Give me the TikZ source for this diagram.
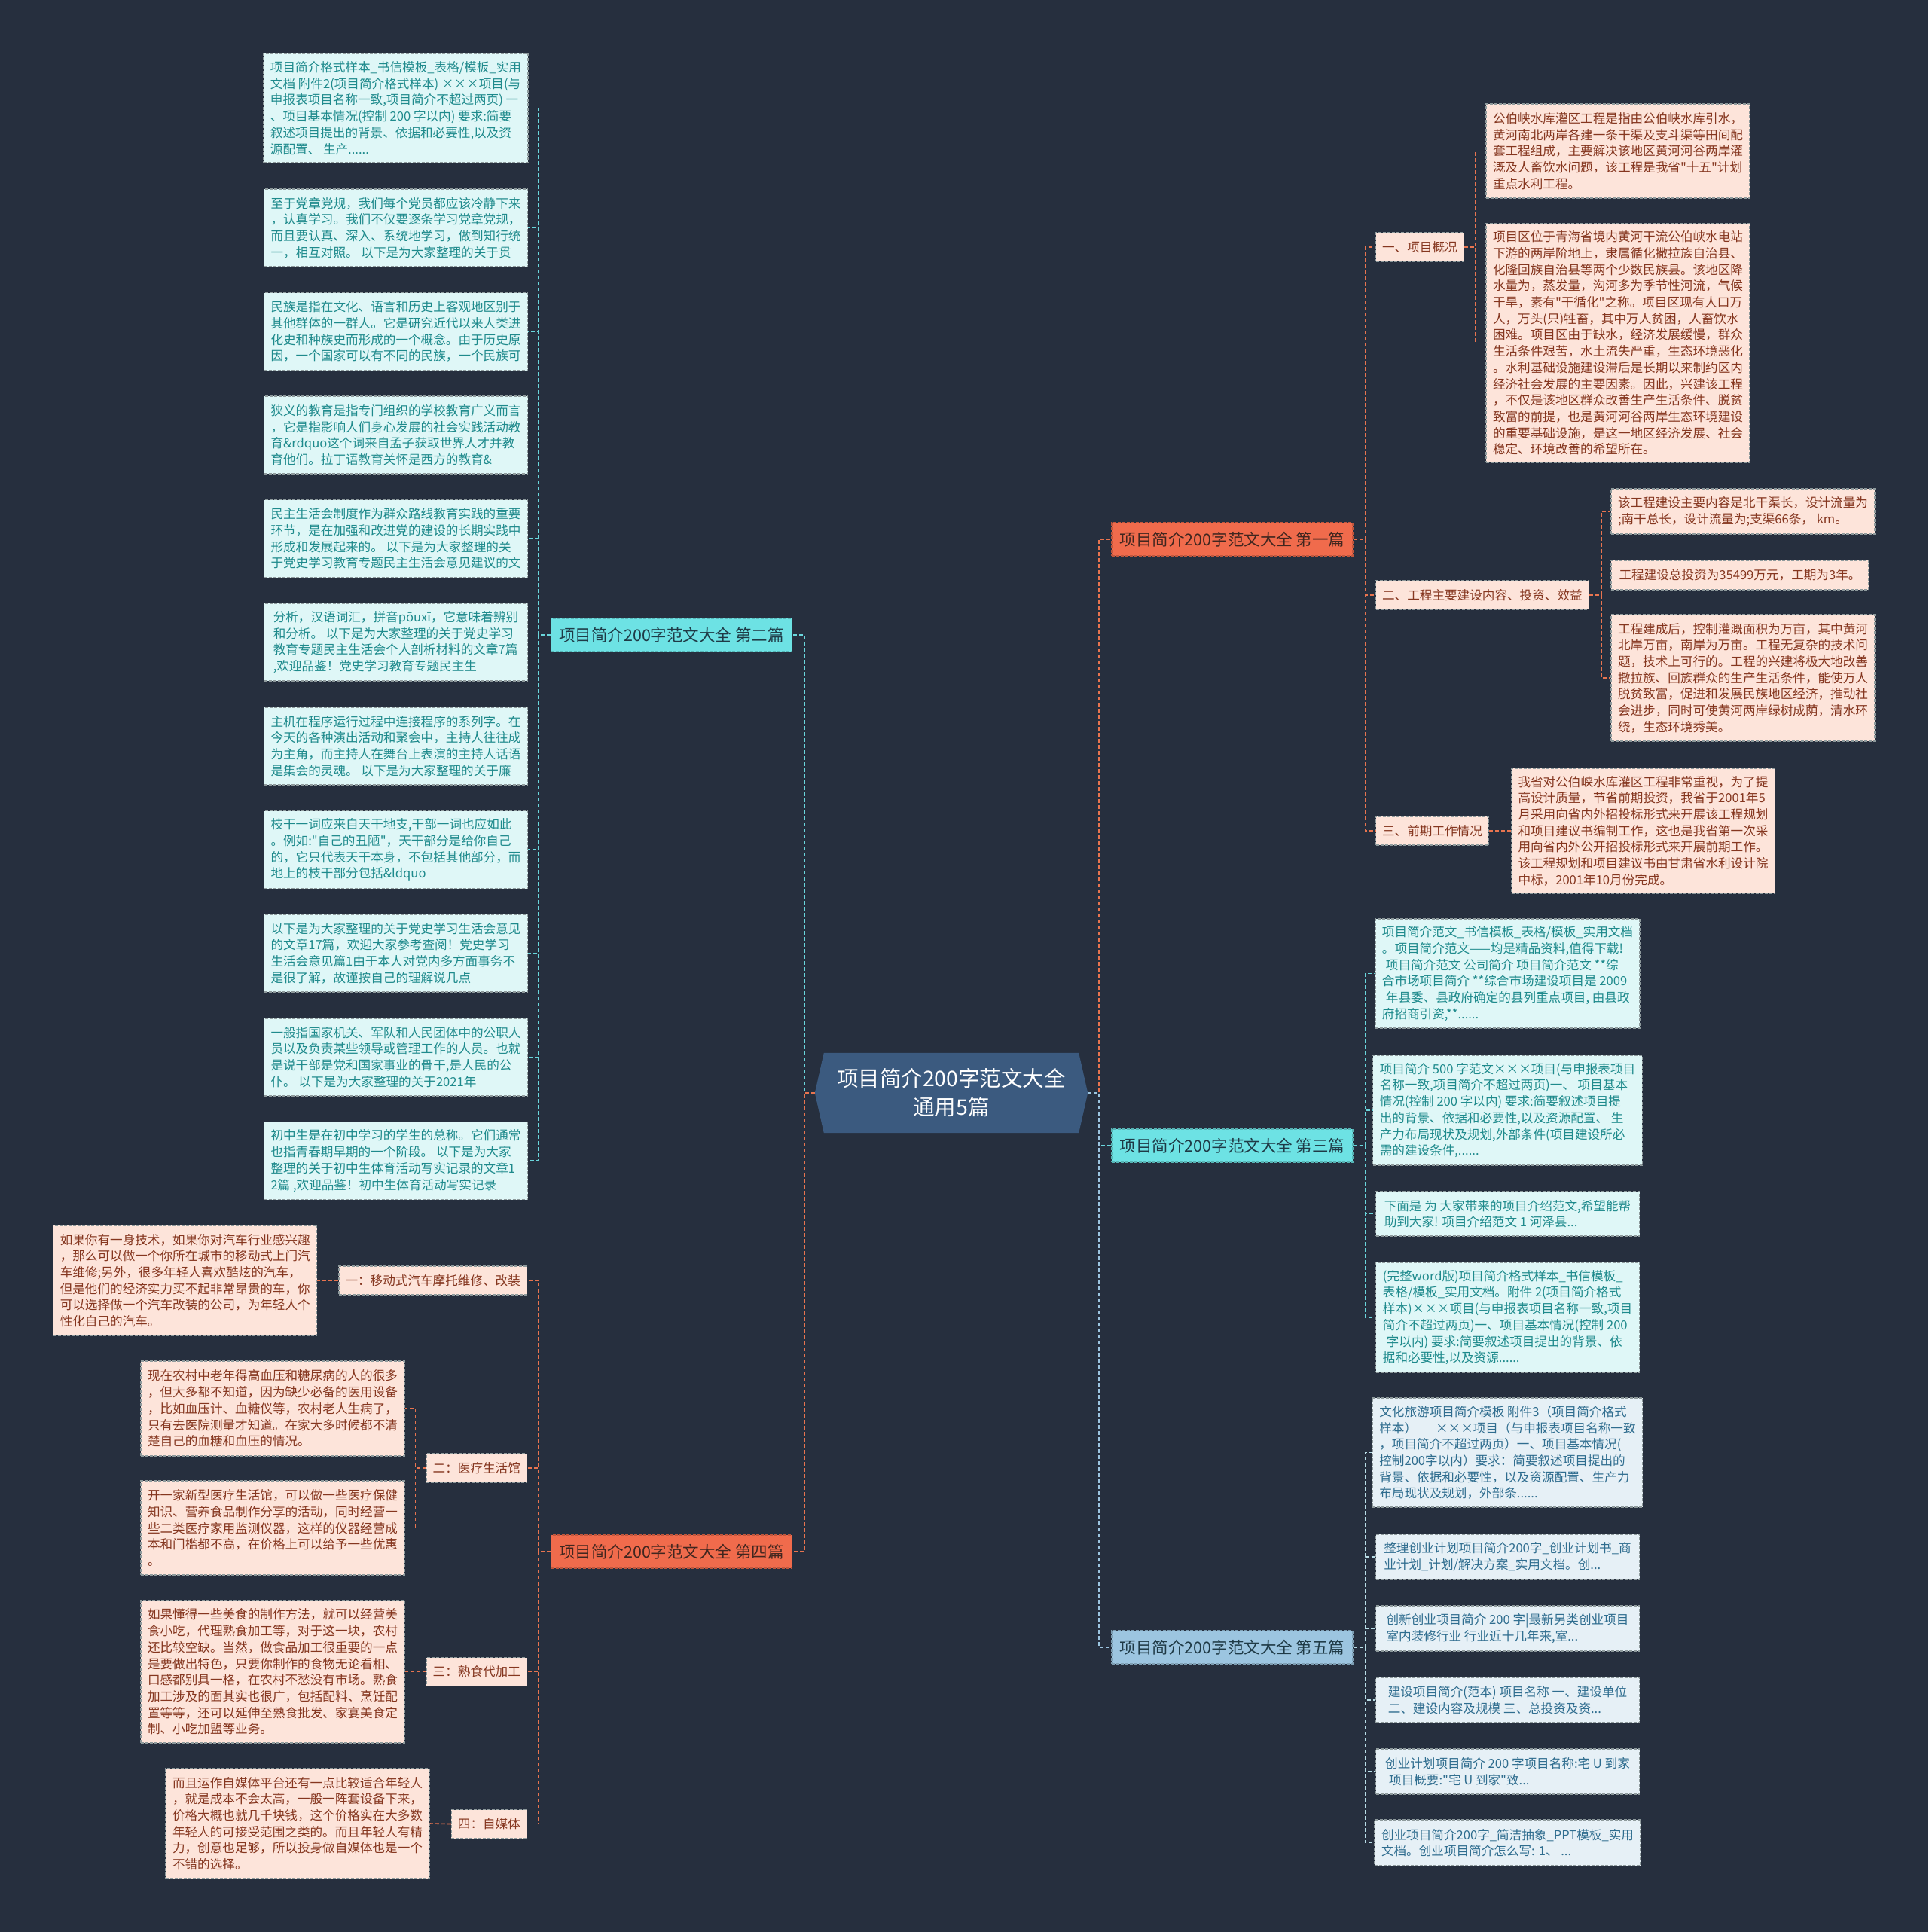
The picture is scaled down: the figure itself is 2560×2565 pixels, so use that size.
\documentclass[tikz,border=0pt]{standalone}
\usepackage{fontspec}
\setmainfont{Noto Sans CJK SC}[Ligatures=TeXOff]
\usetikzlibrary{backgrounds}
\definecolor{bgc}{HTML}{262F3E}
\definecolor{hexfill}{HTML}{3B5A7F}
\definecolor{orangefill}{HTML}{F06B4C}
\definecolor{cyanfill}{HTML}{6DE2E4}
\definecolor{bluefill}{HTML}{9CC5E0}
\definecolor{orangetext}{HTML}{40261F}
\definecolor{cyantext}{HTML}{1F3A46}
\definecolor{cleaffill}{HTML}{DFF7F7}
\definecolor{cleaftext}{HTML}{1E8A8C}
\definecolor{pleaffill}{HTML}{FDE4DA}
\definecolor{pleaftext}{HTML}{85361F}
\definecolor{bleaffill}{HTML}{E6F0F6}
\definecolor{bleaftext}{HTML}{2F6D8F}
\definecolor{leafdraw}{HTML}{8E9A9C}
\definecolor{corange}{HTML}{E8744F}
\definecolor{ccyan}{HTML}{6AD6DC}
\definecolor{cblue}{HTML}{9CC5E0}
\definecolor{clight}{HTML}{B8DDE6}
\tikzset{
  every node/.append style={font=\fontsize{16.6pt}{21.7pt}\selectfont},
  leafbase/.style={rectangle, draw=leafdraw, dash pattern=on 4pt off 2pt, line width=1.2pt, align=left, inner xsep=9pt, inner ysep=0pt, minimum width=350pt},
  cleaf/.style={leafbase, fill=cleaffill, text=cleaftext},
  pleaf/.style={leafbase, fill=pleaffill, text=pleaftext},
  bleaf/.style={leafbase, fill=bleaffill, text=bleaftext},
  psub/.style={rectangle, draw=leafdraw, dash pattern=on 4pt off 2pt, line width=1.2pt, fill=pleaffill, text=pleaftext, minimum height=38pt, inner xsep=8.5pt, inner ysep=0pt},
  mainbr/.style={rectangle, minimum width=320pt, minimum height=44pt, inner sep=0pt, font=\fontsize{21.5pt}{24pt}\selectfont, dash pattern=on 4pt off 2pt, line width=1.2pt},
  obr/.style={mainbr, fill=orangefill, draw=orangefill!80!black, text=orangetext},
  cbr/.style={mainbr, fill=cyanfill, draw=cyanfill!80!black, text=cyantext},
  bbr/.style={mainbr, fill=bluefill, draw=bluefill!80!black, text=cyantext},
  centre/.style={rectangle, minimum width=362pt, minimum height=106pt, inner sep=0pt, align=center, text=white, font=\fontsize{28.5pt}{38pt}\selectfont},
  conn/.style={line width=1.6pt, dash pattern=on 5pt off 3pt},
}
\begin{document}
\begin{tikzpicture}[x=1pt,y=-1pt]
\begin{scope}[on background layer]
\fill[bgc] (0,0) rectangle (2560,2565);
\end{scope}
\useasboundingbox (0,0) rectangle (2560,2565);

% centre
\node[centre] (c) at (1263,1451) {项目简介200字范文大全\\通用5篇};
\begin{scope}[on background layer]
\fill[hexfill] (c.west) -- ([xshift=12pt]c.north west) -- ([xshift=-12pt]c.north east) -- (c.east) -- ([xshift=-12pt]c.south east) -- ([xshift=12pt]c.south west) -- cycle;
\end{scope}

% main branches
\node[obr] (b1m) at (1636,716) {项目简介200字范文大全 第一篇};
\node[cbr] (b3m) at (1636,1521) {项目简介200字范文大全 第三篇};
\node[bbr] (b5m) at (1636,2187) {项目简介200字范文大全 第五篇};
\node[cbr] (b2m) at (891.5,843) {项目简介200字范文大全 第二篇};
\node[obr] (b4m) at (891.5,2060) {项目简介200字范文大全 第四篇};

% ---------- branch 2 leaves
\node[cleaf, minimum height=145pt] (b2l1) at (525.5,143.5) {项目简介格式样本\_书信模板\_表格/模板\_实用\\文档  附件2(项目简介格式样本) ×××项目(与\\申报表项目名称一致,项目简介不超过两页) 一\\、项目基本情况(控制 200 字以内) 要求:简要\\叙述项目提出的背景、依据和必要性,以及资\\源配置、 生产......};
\node[cleaf, minimum height=103pt] (b2l2) at (525.5,302.5) {至于党章党规，我们每个党员都应该冷静下来\\，认真学习。我们不仅要逐条学习党章党规，\\而且要认真、深入、系统地学习，做到知行统\\一，相互对照。 以下是为大家整理的关于贯};
\node[cleaf, minimum height=103pt] (b2l3) at (525.5,440) {民族是指在文化、语言和历史上客观地区别于\\其他群体的一群人。它是研究近代以来人类进\\化史和种族史而形成的一个概念。由于历史原\\因，一个国家可以有不同的民族，一个民族可};
\node[cleaf, minimum height=103pt] (b2l4) at (525.5,577.5) {狭义的教育是指专门组织的学校教育广义而言\\，它是指影响人们身心发展的社会实践活动教\\育\&rdquo这个词来自孟子获取世界人才并教\\育他们。拉丁语教育关怀是西方的教育\&};
\node[cleaf, minimum height=103pt] (b2l5) at (525.5,715) {民主生活会制度作为群众路线教育实践的重要\\环节，是在加强和改进党的建设的长期实践中\\形成和发展起来的。 以下是为大家整理的关\\于党史学习教育专题民主生活会意见建议的文};
\node[cleaf, minimum height=103pt] (b2l6) at (525.5,852.5) {分析，汉语词汇，拼音pōuxī，它意味着辨别\\和分析。 以下是为大家整理的关于党史学习\\教育专题民主生活会个人剖析材料的文章7篇\\,欢迎品鉴！党史学习教育专题民主生};
\node[cleaf, minimum height=103pt] (b2l7) at (525.5,990.5) {主机在程序运行过程中连接程序的系列字。在\\今天的各种演出活动和聚会中，主持人往往成\\为主角，而主持人在舞台上表演的主持人话语\\是集会的灵魂。 以下是为大家整理的关于廉};
\node[cleaf, minimum height=103pt] (b2l8) at (525.5,1128) {枝干一词应来自天干地支,干部一词也应如此\\。例如:"自己的丑陋"，天干部分是给你自己\\的，它只代表天干本身，不包括其他部分，而\\地上的枝干部分包括\&ldquo};
\node[cleaf, minimum height=103pt] (b2l9) at (525.5,1265.5) {以下是为大家整理的关于党史学习生活会意见\\的文章17篇，欢迎大家参考查阅！党史学习\\生活会意见篇1由于本人对党内多方面事务不\\是很了解，故谨按自己的理解说几点};
\node[cleaf, minimum height=103pt] (b2l10) at (525.5,1403.5) {一般指国家机关、军队和人民团体中的公职人\\员以及负责某些领导或管理工作的人员。也就\\是说干部是党和国家事业的骨干,是人民的公\\仆。 以下是为大家整理的关于2021年};
\node[cleaf, minimum height=103pt] (b2l11) at (525.5,1541) {初中生是在初中学习的学生的总称。它们通常\\也指青春期早期的一个阶段。 以下是为大家\\整理的关于初中生体育活动写实记录的文章1\\2篇 ,欢迎品鉴！初中生体育活动写实记录};

% ---------- branch 4
\node[psub, anchor=east] (s41) at (700,1700) {一：移动式汽车摩托维修、改装};
\node[psub, anchor=east] (s42) at (700,1949) {二：医疗生活馆};
\node[psub, anchor=east] (s43) at (700,2219.5) {三：熟食代加工};
\node[psub, anchor=east] (s44) at (700,2421.5) {四：自媒体};
\node[pleaf, minimum height=146pt] (l4a) at (245.75,1700) {如果你有一身技术，如果你对汽车行业感兴趣\\，那么可以做一个你所在城市的移动式上门汽\\车维修;另外，很多年轻人喜欢酷炫的汽车，\\但是他们的经济实力买不起非常昂贵的车，你\\可以选择做一个汽车改装的公司，为年轻人个\\性化自己的汽车。};
\node[pleaf, minimum height=126pt] (l4b) at (362,1870) {现在农村中老年得高血压和糖尿病的人的很多\\，但大多都不知道，因为缺少必备的医用设备\\，比如血压计、血糖仪等，农村老人生病了，\\只有去医院测量才知道。在家大多时候都不清\\楚自己的血糖和血压的情况。};
\node[pleaf, minimum height=125pt] (l4c) at (362,2028.5) {开一家新型医疗生活馆，可以做一些医疗保健\\知识、营养食品制作分享的活动，同时经营一\\些二类医疗家用监测仪器，这样的仪器经营成\\本和门槛都不高，在价格上可以给予一些优惠\\。};
\node[pleaf, minimum height=189pt] (l4d) at (362,2219.5) {如果懂得一些美食的制作方法，就可以经营美\\食小吃，代理熟食加工等，对于这一块，农村\\还比较空缺。当然，做食品加工很重要的一点\\是要做出特色，只要你制作的食物无论看相、\\口感都别具一格，在农村不愁没有市场。熟食\\加工涉及的面其实也很广，包括配料、烹饪配\\置等等，还可以延伸至熟食批发、家宴美食定\\制、小吃加盟等业务。};
\node[pleaf, minimum height=146pt] (l4e) at (395,2421) {而且运作自媒体平台还有一点比较适合年轻人\\，就是成本不会太高，一般一阵套设备下来，\\价格大概也就几千块钱，这个价格实在大多数\\年轻人的可接受范围之类的。而且年轻人有精\\力，创意也足够，所以投身做自媒体也是一个\\不错的选择。};

% ---------- branch 1
\node[psub, anchor=west] (s11) at (1826,328) {一、项目概况};
\node[psub, anchor=west] (s12) at (1826,790) {二、工程主要建设内容、投资、效益};
\node[psub, anchor=west] (s13) at (1826,1103) {三、前期工作情况};
\node[pleaf, minimum height=125pt] (l1f) at (2148,200.5) {公伯峡水库灌区工程是指由公伯峡水库引水，\\黄河南北两岸各建一条干渠及支斗渠等田间配\\套工程组成，主要解决该地区黄河河谷两岸灌\\溉及人畜饮水问题，该工程是我省"十五"计划\\重点水利工程。};
\node[pleaf, minimum height=317pt] (l1g) at (2148,455.5) {项目区位于青海省境内黄河干流公伯峡水电站\\下游的两岸阶地上，隶属循化撒拉族自治县、\\化隆回族自治县等两个少数民族县。该地区降\\水量为，蒸发量，沟河多为季节性河流，气候\\干旱，素有"干循化"之称。项目区现有人口万\\人，万头(只)牲畜，其中万人贫困，人畜饮水\\困难。项目区由于缺水，经济发展缓慢，群众\\生活条件艰苦，水土流失严重，生态环境恶化\\。水利基础设施建设滞后是长期以来制约区内\\经济社会发展的主要因素。因此，兴建该工程\\，不仅是该地区群众改善生产生活条件、脱贫\\致富的前提，也是黄河河谷两岸生态环境建设\\的重要基础设施，是这一地区经济发展、社会\\稳定、环境改善的希望所在。};
\node[pleaf, minimum height=60pt] (l1h) at (2314,679) {该工程建设主要内容是北干渠长，设计流量为\\;南干总长，设计流量为;支渠66条， km。};
\node[pleaf, minimum height=39pt, minimum width=342pt] (l1i) at (2310,763.5) {工程建设总投资为35499万元，工期为3年。};
\node[pleaf, minimum height=168pt] (l1j) at (2314,900) {工程建成后，控制灌溉面积为万亩，其中黄河\\北岸万亩，南岸为万亩。工程无复杂的技术问\\题，技术上可行的。工程的兴建将极大地改善\\撒拉族、回族群众的生产生活条件，能使万人\\脱贫致富，促进和发展民族地区经济，推动社\\会进步，同时可使黄河两岸绿树成荫，清水环\\绕，生态环境秀美。};
\node[pleaf, minimum height=166pt] (l1k) at (2181.5,1103) {我省对公伯峡水库灌区工程非常重视，为了提\\高设计质量，节省前期投资，我省于2001年5\\月采用向省内外招投标形式来开展该工程规划\\和项目建议书编制工作，这也是我省第一次采\\用向省内外公开招投标形式来开展前期工作。\\该工程规划和项目建议书由甘肃省水利设计院\\中标，2001年10月份完成。};

% ---------- branch 3
\node[cleaf, minimum height=145pt] (l3a) at (2001.5,1292.5) {项目简介范文\_书信模板\_表格/模板\_实用文档\\。项目简介范文——均是精品资料,值得下载!\\\hspace*{0.3em}项目简介范文 公司简介 项目简介范文 **综\\合市场项目简介 **综合市场建设项目是 2009\\\hspace*{0.3em}年县委、县政府确定的县列重点项目, 由县政\\府招商引资,**......};
\node[cleaf, minimum height=146pt] (l3b) at (2001.5,1474) {项目简介 500 字范文×××项目(与申报表项目\\名称一致,项目简介不超过两页)一、 项目基本\\情况(控制 200 字以内) 要求:简要叙述项目提\\出的背景、依据和必要性,以及资源配置、 生\\产力布局现状及规划,外部条件(项目建设所必\\需的建设条件,......};
\node[cleaf, minimum height=59pt] (l3c) at (2001.5,1611.5) {下面是 为 大家带来的项目介绍范文,希望能帮\\助到大家! 项目介绍范文 1 河泽县...};
\node[cleaf, minimum height=146pt] (l3d) at (2001.5,1749) {(完整word版)项目简介格式样本\_书信模板\_\\表格/模板\_实用文档。附件 2(项目简介格式\\样本)×××项目(与申报表项目名称一致,项目\\简介不超过两页)一、项目基本情况(控制 200\\\hspace*{0.3em}字以内) 要求:简要叙述项目提出的背景、依\\据和必要性,以及资源......};

% ---------- branch 5
\node[bleaf, minimum height=145pt] (l5a) at (2001.5,1928.5) {文化旅游项目简介模板 附件3（项目简介格式\\样本）\hspace{1.5em}×××项目（与申报表项目名称一致\\，项目简介不超过两页）一、项目基本情况(\\控制200字以内）要求：简要叙述项目提出的\\背景、依据和必要性，以及资源配置、生产力\\布局现状及规划，外部条......};
\node[bleaf, minimum height=60pt] (l5b) at (2001.5,2067) {整理创业计划项目简介200字\_创业计划书\_商\\业计划\_计划/解决方案\_实用文档。创...};
\node[bleaf, minimum height=60pt] (l5c) at (2001.5,2162) {创新创业项目简介 200 字|最新另类创业项目\\室内装修行业 行业近十几年来,室...};
\node[bleaf, minimum height=60pt] (l5d) at (2001.5,2257) {建设项目简介(范本) 项目名称 一、建设单位\\二、建设内容及规模 三、总投资及资...};
\node[bleaf, minimum height=60pt] (l5e) at (2001.5,2352) {创业计划项目简介 200 字项目名称:宅 U 到家\\\hspace*{0.3em}项目概要:"宅 U 到家"致...};
\node[bleaf, minimum height=61pt] (l5f) at (2001.5,2446.5) {创业项目简介200字\_简洁抽象\_PPT模板\_实用\\文档。创业项目简介怎么写: 1、 ...};

% ---------- connectors
\draw[conn, draw=corange] (c.east) -- ++(15,0) |- (b1m.west);
\draw[conn, draw=ccyan] (c.east) -- ++(15,0) |- (b3m.west);
\draw[conn, draw=cblue] (c.east) -- ++(15,0) |- (b5m.west);
\draw[conn, draw=ccyan] (c.west) -- ++(-14,0) |- (b2m.east);
\draw[conn, draw=corange] (c.west) -- ++(-14,0) |- (b4m.east);

\foreach \i in {1,...,11} \draw[conn, draw=ccyan] (b2m.west) -- ++(-16,0) |- (b2l\i.east);

\foreach \s in {s41,s42,s43,s44} \draw[conn, draw=corange] (b4m.west) -- ++(-16,0) |- (\s.east);
\draw[conn, draw=corange] (s41.west) -- (l4a.east);
\draw[conn, draw=corange] (s42.west) -- ++(-14,0) |- (l4b.east);
\draw[conn, draw=corange] (s42.west) -- ++(-14,0) |- (l4c.east);
\draw[conn, draw=corange] (s43.west) -- (l4d.east);
\draw[conn, draw=corange] (s44.west) -- (l4e.east);

\foreach \s in {s11,s12,s13} \draw[conn, draw=corange] (b1m.east) -- ++(16,0) |- (\s.west);
\draw[conn, draw=corange] (s11.east) -- ++(15,0) |- (l1f.west);
\draw[conn, draw=corange] (s11.east) -- ++(15,0) |- (l1g.west);
\draw[conn, draw=corange] (s12.east) -- ++(16,0) |- (l1h.west);
\draw[conn, draw=corange] (s12.east) -- ++(16,0) |- (l1i.west);
\draw[conn, draw=corange] (s12.east) -- ++(16,0) |- (l1j.west);
\draw[conn, draw=corange] (s13.east) -- (l1k.west);

\foreach \l in {l3a,l3b,l3c,l3d} \draw[conn, draw=ccyan] (b3m.east) -- ++(16,0) |- (\l.west);
\foreach \l in {l5a,l5b,l5c,l5d,l5e,l5f} \draw[conn, draw=clight] (b5m.east) -- ++(16,0) |- (\l.west);
\end{tikzpicture}
\end{document}
